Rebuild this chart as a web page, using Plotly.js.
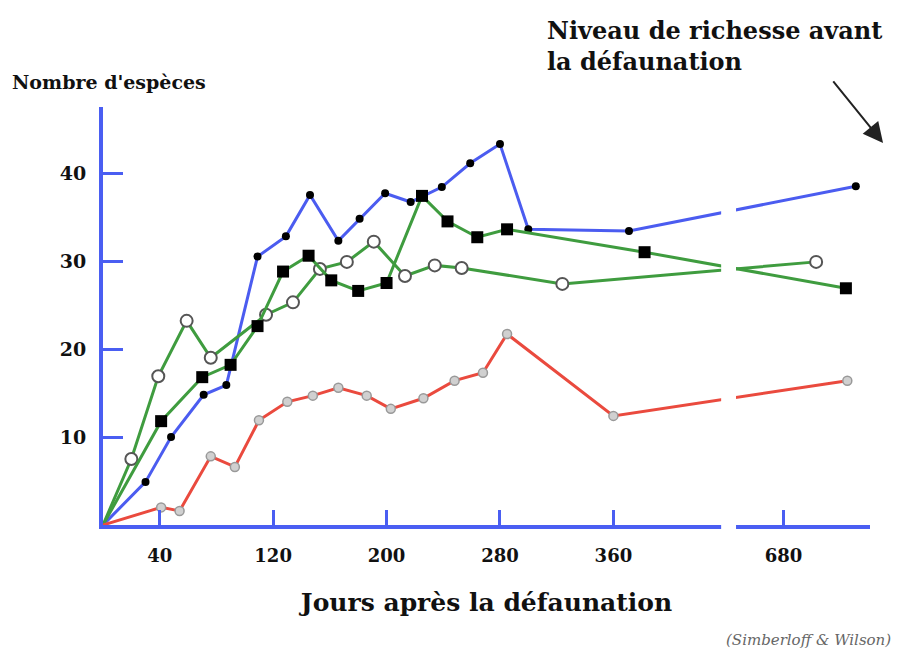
<!DOCTYPE html>
<html>
<head>
<meta charset="utf-8">
<script src="https://cdn.plot.ly/plotly-3.0.1.min.js"></script>
<style>html,body{margin:0;padding:0;background:#fff;}#chart{width:897px;height:658px;}</style>
</head>
<body>
<div id="chart"></div>
<script>
// ---- Data (days after defaunation, number of species) ----
const blueDays    = [0, 30, 48, 71, 87, 109, 129, 146, 166, 181, 199, 217, 239, 259, 280, 300, 371, 731];
const blueSpecies = [0, 4.9, 10.0, 14.8, 15.9, 30.5, 32.8, 37.5, 32.3, 34.8, 37.7, 36.7, 38.4, 41.1, 43.3, 33.6, 33.4, 38.5];

const blackDays    = [0, 41, 70, 90, 109, 127, 145, 161, 180, 200, 225, 243, 264, 285, 382, 724];
const blackSpecies = [0, 11.8, 16.8, 18.2, 22.6, 28.8, 30.6, 27.8, 26.6, 27.5, 37.4, 34.5, 32.7, 33.6, 31.0, 26.9];

const openDays    = [0, 20, 39, 59, 76, 115, 134, 153, 172, 191, 213, 234, 253, 324, 703];
const openSpecies = [0, 7.5, 16.9, 23.2, 19.0, 23.9, 25.3, 29.1, 29.9, 32.2, 28.3, 29.5, 29.2, 27.4, 29.9];

const redDays    = [0, 41, 54, 76, 93, 110, 130, 148, 166, 186, 203, 226, 248, 268, 285, 360, 725];
const redSpecies = [0, 2.0, 1.6, 7.8, 6.6, 11.9, 14.0, 14.7, 15.6, 14.7, 13.2, 14.4, 16.4, 17.3, 21.7, 12.4, 16.4];

const xTickDays   = [40, 120, 200, 280, 360, 680];
const xTickLabels = ['40', '120', '200', '280', '360', '680'];
const yTickVals   = [10, 20, 30, 40];
const yTickLabels = ['10', '20', '30', '40'];

// ---- Broken x axis: days beyond the break are shifted left by GAP ----
const BREAK_START = 434;
const GAP = 200;
const toAxis = d => (d > BREAK_START ? d - GAP : d);
// no marker drawn at the origin (day 0)
const sizes = (days, s) => days.map(d => (d === 0 ? 0 : s));

const serif = '"DejaVu Serif", "Liberation Serif", serif';
const blue = '#4b5cf0';
const green = '#3f9c3f';
const red = '#ea4a3e';
const axisBlue = '#4a5ef2';

const traces = [
  {
    x: blueDays.map(toAxis), y: blueSpecies, mode: 'lines+markers', type: 'scatter',
    line: {color: blue, width: 3},
    marker: {color: '#000', opacity: 1, size: sizes(blueDays, 8), symbol: 'circle', line: {width: 0}},
    name: 'A', cliponaxis: false
  },
  {
    x: openDays.map(toAxis), y: openSpecies, mode: 'lines+markers', type: 'scatter',
    line: {color: green, width: 3},
    marker: {color: '#fff', opacity: 1, size: sizes(openDays, 12), symbol: 'circle', line: {color: '#555', width: 2}},
    name: 'B', cliponaxis: false
  },
  {
    x: blackDays.map(toAxis), y: blackSpecies, mode: 'lines+markers', type: 'scatter',
    line: {color: green, width: 3},
    marker: {color: '#000', opacity: 1, size: sizes(blackDays, 12), symbol: 'square', line: {width: 0}},
    name: 'C', cliponaxis: false
  },
  {
    x: redDays.map(toAxis), y: redSpecies, mode: 'lines+markers', type: 'scatter',
    line: {color: red, width: 3},
    marker: {color: '#d0d0d0', opacity: 1, size: sizes(redDays, 9), symbol: 'circle', line: {color: '#999', width: 1.5}},
    name: 'D', cliponaxis: false
  }
];

const layout = {
  width: 897, height: 658,
  margin: {l: 103, r: 27, t: 107, b: 133},
  paper_bgcolor: '#fff', plot_bgcolor: '#fff',
  showlegend: false,
  xaxis: {
    range: [0, 541], showgrid: false, zeroline: false,
    showline: true, linecolor: axisBlue, linewidth: 4,
    ticks: 'inside', ticklen: 15, tickwidth: 3, tickcolor: axisBlue,
    tickvals: xTickDays.map(toAxis), ticktext: xTickLabels,
    ticklabelstandoff: 11,
    tickfont: {family: serif, size: 18, color: '#111', weight: 700},
    title: {text: 'Jours après la défaunation', standoff: 30,
            font: {family: serif, size: 25, color: '#111', weight: 700}}
  },
  yaxis: {
    range: [0, 47.5], showgrid: false, zeroline: false,
    showline: true, linecolor: axisBlue, linewidth: 4,
    ticks: 'inside', ticklen: 20, tickwidth: 3, tickcolor: axisBlue,
    tickvals: yTickVals, ticktext: yTickLabels,
    ticklabelstandoff: 9,
    tickfont: {family: serif, size: 19, color: '#111', weight: 700}
  },
  shapes: [
    {type: 'rect', layer: 'above', xref: 'x', yref: 'paper',
     x0: 436, x1: 446.5, y0: -0.03, y1: 1.0,
     fillcolor: '#fff', line: {width: 0}}
  ],
  annotations: [
    {xref: 'paper', yref: 'paper', x: -0.121, y: 1.06, xanchor: 'left', yanchor: 'middle',
     text: "Nombre d'espèces", showarrow: false,
     font: {family: serif, size: 19, color: '#111', weight: 700}},
    {xref: 'paper', yref: 'paper', x: 0.576, y: 1.146, xanchor: 'left', yanchor: 'middle',
     align: 'left', text: 'Niveau de richesse avant<br>la défaunation', showarrow: false,
     font: {family: serif, size: 24, color: '#111', weight: 700}},
    {xref: 'paper', yref: 'paper', x: 1.017, y: 0.914, text: '', showarrow: true,
     ax: -51, ay: -63, arrowhead: 2, arrowsize: 2, arrowwidth: 2, arrowcolor: '#222'},
    {xref: 'paper', yref: 'paper', x: 1.03, y: -0.275, xanchor: 'right', yanchor: 'middle',
     text: '(Simberloff &amp; Wilson)', showarrow: false,
     font: {family: serif, size: 15, color: '#666', style: 'italic'}}
  ]
};

Plotly.newPlot('chart', traces, layout, {displayModeBar: false, staticPlot: true});
</script>
</body>
</html>
